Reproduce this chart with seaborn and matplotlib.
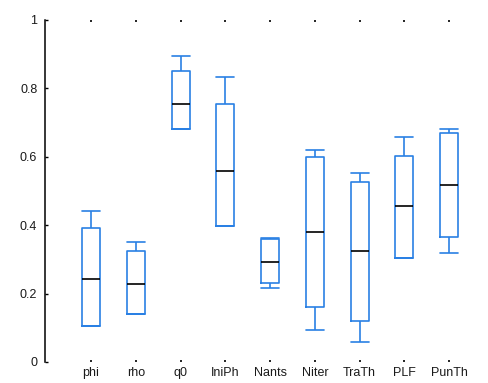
import numpy as np
import pandas as pd
import matplotlib
matplotlib.use("Agg")
import matplotlib.pyplot as plt
import seaborn as sns

# Parameter names on the x axis
params = ["phi", "rho", "q0", "IniPh", "Nants", "Niter", "TraTh", "PLF", "PunTh"]

# Five-number summaries per parameter
lower  = [0.105, 0.139, 0.681, 0.399, 0.217, 0.094, 0.058, 0.303, 0.320]
q1     = [0.105, 0.139, 0.681, 0.399, 0.231, 0.161, 0.120, 0.303, 0.365]
median = [0.243, 0.227, 0.753, 0.558, 0.293, 0.380, 0.324, 0.457, 0.518]
q3     = [0.391, 0.325, 0.850, 0.753, 0.360, 0.600, 0.527, 0.602, 0.670]
upper  = [0.441, 0.352, 0.896, 0.834, 0.362, 0.620, 0.553, 0.658, 0.681]

y_ticks = [0, 0.2, 0.4, 0.6, 0.8, 1]
y_tick_labels = ["0", "0.2", "0.4", "0.6", "0.8", "1"]

rows = []
for i, p in enumerate(params):
    for v in (lower[i], q1[i], median[i], q3[i], upper[i]):
        rows.append({"param": p, "value": v})
df = pd.DataFrame(rows)

sns.set_style("white")
plt.rcParams["font.family"] = ["Liberation Sans", "DejaVu Sans"]

BLUE = "#2a80e4"
BOX_W = 0.4

fig = plt.figure(figsize=(4.88, 3.83), dpi=100)
ax = fig.add_axes([45 / 488, 1 - 362 / 383, 1 - 45 / 488, (362 - 20) / 383])

sns.boxplot(
    data=df, x="param", y="value", order=params, ax=ax,
    whis=(0, 100), width=BOX_W, fill=False, color=BLUE,
    linewidth=1.2, showfliers=False,
    medianprops={"color": "black", "linewidth": 1.2},
)

# caps as wide as the boxes
for ln in ax.lines:
    x = np.asarray(ln.get_xdata(), dtype=float)
    y = np.asarray(ln.get_ydata(), dtype=float)
    if len(x) == 2 and y[0] == y[1] and ln.get_color() != "black":
        c = x.mean()
        ln.set_xdata([c - BOX_W / 2, c + BOX_W / 2])

ax.set_xlim(-1.03, 8.87)
ax.set_ylim(0, 1)
ax.set_yticks(y_ticks)
ax.set_yticklabels(y_tick_labels)
ax.set_xlabel("")
ax.set_ylabel("")

for s in ("top", "right", "bottom"):
    ax.spines[s].set_visible(False)
ax.spines["left"].set_color("black")
ax.spines["left"].set_linewidth(1.1)

ax.tick_params(axis="y", direction="in", length=2.5, width=1, color="black",
               pad=5.5, labelsize=9, labelcolor="#1a1a1a", left=True)
ax.tick_params(axis="x", direction="in", length=1.5, width=1.2, color="black",
               pad=3.5, labelsize=9, labelcolor="#1a1a1a", top=True, bottom=True)

fig.savefig("out.png", dpi=100)
